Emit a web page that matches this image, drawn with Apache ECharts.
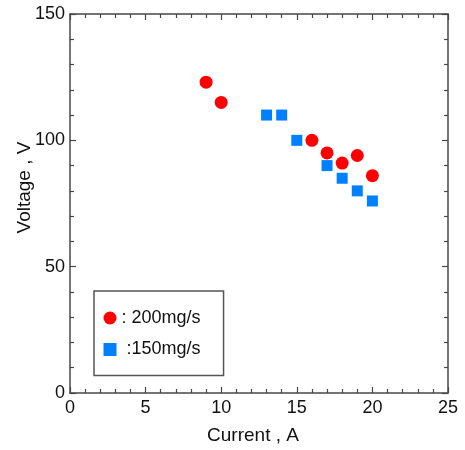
<!DOCTYPE html>
<html>
<head>
<meta charset="UTF-8">
<title>Voltage vs Current</title>
<script src="https://cdn.jsdelivr.net/npm/echarts@6/dist/echarts.min.js"></script>
<style>
    html, body { margin: 0; padding: 0; background: #fff; }
</style>
</head>
<body>
    <div id="main" style="width: 465px; height: 450px;"></div>
    <script>
        // data
        var current200 = [9, 10, 16, 17, 18, 19, 20];
        var voltage200 = [123, 115, 100, 95, 91, 94, 86];
        var current150 = [13, 14, 15, 17, 18, 19, 20];
        var voltage150 = [110, 110, 100, 90, 85, 80, 76];
        var seriesNames = [': 200mg/s', ' :150mg/s'];
        var xTicks = [0, 5, 10, 15, 20, 25];
        var yTicks = [0, 50, 100, 150];

        function pairs(xs, ys) {
            return xs.map(function (x, i) { return [x, ys[i]]; });
        }

        var font = 'Liberation Sans, Arial, sans-serif';
        var axisColor = '#474747';

        function frameAxis(extra) {
            var base = {
                type: 'value',
                axisLine: { show: true, onZero: false, lineStyle: { color: axisColor, width: 1.5 } },
                axisTick: { show: true, inside: true, length: 6, lineStyle: { color: axisColor, width: 1.2 } },
                minorTick: { show: true, splitNumber: 5, length: 4, lineStyle: { color: axisColor, width: 1.2 } },
                splitLine: { show: false },
                axisLabel: { show: false }
            };
            return Object.assign(base, extra);
        }

        var myChart = echarts.init(document.getElementById('main'));

        var option = {
            backgroundColor: '#fff',
            animation: false,
            grid: { left: 70, right: 17, top: 14, bottom: 57, containLabel: false, outerBoundsMode: 'none' },
            legend: {
                orient: 'vertical',
                left: 94,
                top: 291,
                data: seriesNames,
                itemWidth: 13,
                itemHeight: 13,
                itemGap: 13.5,
                padding: [18, 23, 17, 9.5],
                borderColor: '#555',
                borderWidth: 1.5,
                textStyle: { fontFamily: font, fontSize: 18, color: '#111' }
            },
            xAxis: [
                frameAxis({
                    position: 'bottom',
                    min: xTicks[0],
                    max: xTicks[xTicks.length - 1],
                    interval: xTicks[1] - xTicks[0],
                    name: 'Current , A',
                    nameLocation: 'middle',
                    nameMoveOverlap: false,
                    nameGap: 33,
                    nameTextStyle: { fontFamily: font, fontSize: 19, color: '#111', padding: [0, 12, 0, 0] },
                    axisLabel: { show: true, margin: 6, fontFamily: font, fontSize: 18, color: '#111' }
                }),
                frameAxis({
                    position: 'top',
                    min: xTicks[0],
                    max: xTicks[xTicks.length - 1],
                    interval: xTicks[1] - xTicks[0]
                })
            ],
            yAxis: [
                frameAxis({
                    position: 'left',
                    min: yTicks[0],
                    max: yTicks[yTicks.length - 1],
                    interval: yTicks[1] - yTicks[0],
                    name: 'Voltage , V',
                    nameLocation: 'middle',
                    nameMoveOverlap: false,
                    nameRotate: 90,
                    nameGap: 35.5,
                    nameTextStyle: { fontFamily: font, fontSize: 19, color: '#111', padding: [0, 0, 0, 32] },
                    axisLabel: { show: true, margin: 5, fontFamily: font, fontSize: 18, color: '#111' }
                }),
                frameAxis({
                    position: 'right',
                    min: yTicks[0],
                    max: yTicks[yTicks.length - 1],
                    interval: yTicks[1] - yTicks[0]
                })
            ],
            series: [
                {
                    name: seriesNames[0],
                    type: 'scatter',
                    xAxisIndex: 0,
                    yAxisIndex: 0,
                    symbol: 'circle',
                    symbolSize: 13,
                    itemStyle: { color: '#ff0000', opacity: 1 },
                    data: pairs(current200, voltage200)
                },
                {
                    name: seriesNames[1],
                    type: 'scatter',
                    xAxisIndex: 0,
                    yAxisIndex: 0,
                    symbol: 'rect',
                    symbolSize: 11,
                    itemStyle: { color: '#0080ff', opacity: 1 },
                    data: pairs(current150, voltage150)
                }
            ]
        };

        myChart.setOption(option);
    </script>
</body>
</html>
